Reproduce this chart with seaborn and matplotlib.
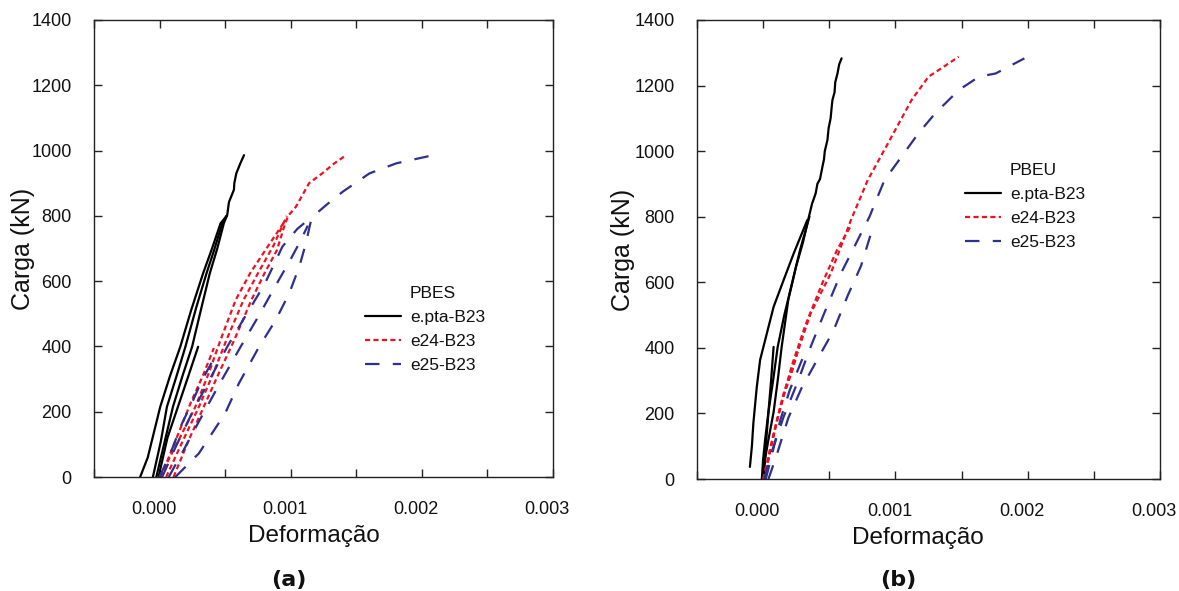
import numpy as np
import pandas as pd
import matplotlib
matplotlib.use("Agg")
import matplotlib.pyplot as plt
from matplotlib.lines import Line2D
from matplotlib.ticker import MultipleLocator, FuncFormatter
from matplotlib.transforms import ScaledTranslation
import seaborn as sns

# ---------------- data ----------------
series_names = ["e.pta-B23", "e24-B23", "e25-B23"]
x_label = "Deformação"
y_label = "Carga (kN)"
panel_titles = ["(a)", "(b)"]
legend_titles = ["PBES", "PBEU"]
y_ticks = [0, 200, 400, 600, 800, 1000, 1200, 1400]

# Panel (a) PBES
a_pta_1_x = [-0.000148, -0.00009, 0.000005, 0.00008, 0.000158, 0.00024, 0.000332, 0.0004, 0.000465, 0.000511]
a_pta_1_y = [0, 60, 215, 310, 399, 510, 624, 700, 777, 800]
a_pta_2_x = [-0.000051, 0.00001, 0.000056, 0.00013, 0.000197, 0.00028, 0.000358, 0.00042, 0.000478, 0.000511]
a_pta_2_y = [0, 110, 215, 310, 399, 520, 624, 700, 777, 800]
a_pta_3_x = [-0.000025, 0.00004, 0.000102, 0.000175, 0.000248, 0.00032, 0.000383, 0.00044, 0.00049, 0.000516,
             0.000529, 0.000567, 0.00057, 0.000585, 0.000615, 0.000644]
a_pta_3_y = [0, 110, 215, 310, 399, 520, 624, 700, 777, 803, 842, 880, 900, 930, 960, 986]
a_pta_4_x = [-0.000008, 0.00006, 0.00014, 0.00022, 0.000294]
a_pta_4_y = [0, 120, 215, 310, 399]

a_e24_1_x = [0.00001, 0.00008, 0.00016, 0.00024, 0.00033, 0.000414]
a_e24_1_y = [0, 70, 150, 230, 310, 395]
a_e24_2_x = [0.00000, 0.000146, 0.000273, 0.000375, 0.000465, 0.00058, 0.00069, 0.000815, 0.00096]
a_e24_2_y = [0, 113, 215, 318, 420, 542, 624, 700, 787]
a_e24_3_x = [0.00005, 0.00018, 0.0003, 0.00041, 0.00051, 0.00064, 0.00075, 0.00087, 0.00097]
a_e24_3_y = [0, 113, 215, 318, 420, 542, 624, 710, 800]
a_e24_4_x = [0.000107, 0.000222, 0.000337, 0.000452, 0.00057, 0.0007, 0.0008, 0.000895, 0.00095, 0.00098,
             0.00104, 0.00114, 0.00124, 0.00133, 0.001423]
a_e24_4_y = [0, 113, 215, 318, 420, 542, 624, 695, 767, 800, 828, 900, 930, 960, 986]

a_e25_1_x = [0.0, 0.00009, 0.000171, 0.00025, 0.000324, 0.00039, 0.000439]
a_e25_1_y = [0, 80, 164, 230, 297, 345, 379]
a_e25_2_x = [0.00002, 0.00012, 0.00024, 0.00037, 0.000516, 0.00065, 0.0008, 0.000937, 0.00105, 0.00114]
a_e25_2_y = [0, 90, 190, 290, 399, 490, 590, 706, 760, 790]
a_e25_3_x = [0.00007, 0.00018, 0.0003, 0.00045, 0.000618, 0.000765, 0.00089, 0.00099, 0.00107, 0.00113]
a_e25_3_y = [0, 80, 170, 280, 399, 500, 590, 660, 720, 770]
a_e25_4_x = [0.00012, 0.000299, 0.0005, 0.000605, 0.000759, 0.000886, 0.000989, 0.001065, 0.001116, 0.00114,
             0.00116, 0.00127, 0.001397, 0.0016, 0.001806, 0.002087]
a_e25_4_y = [0, 72, 195, 287, 399, 481, 563, 644, 716, 760, 795, 833, 874, 930, 961, 986]

# Panel (b) PBEU
b_pta_1_x = [-0.0001, -0.000085, -0.000074, -0.00006, -0.000048, -0.000023, 0.000028, 0.000079, 0.000155, 0.000231, 0.000334]
b_pta_1_y = [37, 100, 170, 230, 281, 363, 444, 525, 607, 688, 790]
b_pta_2_x = [-0.00001, 0.0, 0.000015, 0.00004, 0.000075, 0.00011, 0.00016, 0.00022, 0.00028, 0.00035]
b_pta_2_y = [0, 60, 120, 204, 300, 403, 500, 600, 700, 800]
b_pta_3_x = [0.0, 0.00001, 0.00004, 0.000079, 0.00011, 0.00014, 0.00019, 0.00025, 0.0003, 0.000346,
             0.00037, 0.000397, 0.00041, 0.00043, 0.000448, 0.00046, 0.000466, 0.000486, 0.000495, 0.00051,
             0.000517, 0.000524, 0.00054, 0.000545, 0.000562, 0.000575, 0.000593]
b_pta_3_y = [0, 50, 120, 204, 300, 403, 546, 650, 720, 800,
             840, 871, 900, 915, 952, 975, 1000, 1034, 1070, 1100,
             1130, 1156, 1180, 1210, 1237, 1265, 1283]
b_pta_4_x = [0.000005, 0.00002, 0.00004, 0.00006, 0.000079]
b_pta_4_y = [0, 100, 204, 300, 403]

b_e24_1_x = [0.00001, 0.00005, 0.0001, 0.00016, 0.00022, 0.00027]
b_e24_1_y = [0, 80, 170, 260, 330, 403]
b_e24_2_x = [0.00001, 0.00006, 0.00013, 0.00022, 0.00032, 0.00045, 0.00056, 0.00066]
b_e24_2_y = [0, 100, 220, 350, 470, 600, 700, 770]
b_e24_3_x = [0.0, 0.000079, 0.000155, 0.000257, 0.000359, 0.000511, 0.000664, 0.000791, 0.000944, 0.001122,
             0.00125, 0.001326, 0.001478]
b_e24_3_y = [0, 139, 261, 383, 505, 627, 790, 912, 1024, 1156, 1227, 1247, 1288]

b_e25_1_x = [0.00002, 0.00007, 0.00013, 0.0002, 0.00027, 0.00033]
b_e25_1_y = [0, 80, 180, 270, 340, 400]
b_e25_2_x = [0.00004, 0.0001, 0.00019, 0.00029, 0.00042, 0.00053, 0.00064, 0.00074, 0.00081]
b_e25_2_y = [0, 70, 186, 277, 372, 451, 560, 650, 742]
b_e25_3_x = [0.00001, 0.000053, 0.000155, 0.000257, 0.000359, 0.000461, 0.000588, 0.000715, 0.000804, 0.000855,
             0.000918, 0.001046, 0.001173, 0.0013, 0.001478, 0.001631, 0.001758, 0.001975]
b_e25_3_y = [0, 68, 190, 292, 403, 505, 627, 729, 800, 851,
             912, 983, 1054, 1115, 1186, 1227, 1237, 1283]

curves = {
    "a": [
        ("e.pta-B23", a_pta_1_x, a_pta_1_y), ("e.pta-B23", a_pta_2_x, a_pta_2_y),
        ("e.pta-B23", a_pta_3_x, a_pta_3_y), ("e.pta-B23", a_pta_4_x, a_pta_4_y),
        ("e24-B23", a_e24_1_x, a_e24_1_y), ("e24-B23", a_e24_2_x, a_e24_2_y),
        ("e24-B23", a_e24_3_x, a_e24_3_y), ("e24-B23", a_e24_4_x, a_e24_4_y),
        ("e25-B23", a_e25_1_x, a_e25_1_y), ("e25-B23", a_e25_2_x, a_e25_2_y),
        ("e25-B23", a_e25_3_x, a_e25_3_y), ("e25-B23", a_e25_4_x, a_e25_4_y),
    ],
    "b": [
        ("e.pta-B23", b_pta_1_x, b_pta_1_y), ("e.pta-B23", b_pta_2_x, b_pta_2_y),
        ("e.pta-B23", b_pta_3_x, b_pta_3_y), ("e.pta-B23", b_pta_4_x, b_pta_4_y),
        ("e24-B23", b_e24_1_x, b_e24_1_y), ("e24-B23", b_e24_2_x, b_e24_2_y),
        ("e24-B23", b_e24_3_x, b_e24_3_y),
        ("e25-B23", b_e25_1_x, b_e25_1_y), ("e25-B23", b_e25_2_x, b_e25_2_y),
        ("e25-B23", b_e25_3_x, b_e25_3_y),
    ],
}

# ---------------- styling ----------------
sns.set_style("ticks")
plt.rcParams["font.family"] = ["Liberation Sans", "DejaVu Sans"]

palette = {"e.pta-B23": "#000000", "e24-B23": "#EE1122", "e25-B23": "#2E2F8F"}
dashes = {"e.pta-B23": "", "e24-B23": (2.3, 1.5), "e25-B23": (6.5, 6.0)}
LW = 1.6

fig = plt.figure(figsize=(11.79, 5.91), dpi=100)
W, H = 1179, 591
ax_a = fig.add_axes([94 / W, 1 - 477 / H, (553 - 94) / W, (477 - 20) / H])
ax_b = fig.add_axes([697 / W, 1 - 479 / H, (1160 - 697) / W, (479 - 20) / H])


def build_df(key):
    rows = []
    for i, (s, xs, ys) in enumerate(curves[key]):
        for j, (x, y) in enumerate(zip(xs, ys)):
            rows.append({"strain": x, "load": y, "series": s, "curve": i, "order": j})
    return pd.DataFrame(rows)


def fmt(v, pos):
    k = round(v / 0.001)
    if abs(v - k * 0.001) < 1e-9 and k >= 0:
        return f"{v:.3f}"
    return ""


for ax, key, ltitle, leg_anchor, xl_x, yl_x in [
    (ax_a, "a", legend_titles[0], (0.59, 0.418), 0.479, -0.128),
    (ax_b, "b", legend_titles[1], (0.578, 0.688), 0.477, -0.133),
]:
    df = build_df(key)
    sns.lineplot(data=df, x="strain", y="load", hue="series", style="series",
                 units="curve", estimator=None, sort=False, palette=palette,
                 dashes=dashes, linewidth=LW, legend=False, ax=ax,
                 hue_order=series_names, style_order=series_names)
    ax.set_xlim(-0.0005, 0.003)
    ax.set_ylim(0, 1400)
    ax.xaxis.set_major_locator(MultipleLocator(0.0005))
    ax.xaxis.set_major_formatter(FuncFormatter(fmt))
    ax.set_yticks(y_ticks)
    ax.tick_params(axis="both", direction="in", top=True, right=True,
                   length=6, width=1, labelsize=13, color="#222222",
                   labelcolor="#111111")
    ax.tick_params(axis="x", pad=17)
    ax.tick_params(axis="y", pad=16)
    for sp in ax.spines.values():
        sp.set_linewidth(1.0)
        sp.set_color("#222222")
    ax.set_xlabel(x_label, fontsize=17.5, color="#111111")
    ax.set_ylabel(y_label, fontsize=18, color="#111111")
    ax.xaxis.set_label_coords(xl_x, -0.105)
    ax.yaxis.set_label_coords(yl_x, 0.5)

    handles = [Line2D([], [], linestyle="none")]
    for s in series_names:
        h = Line2D([], [], color=palette[s], linewidth=LW)
        if dashes[s]:
            h.set_dashes(dashes[s])
        handles.append(h)
    leg = ax.legend(handles, [ltitle] + series_names, loc="upper left",
                    bbox_to_anchor=leg_anchor, frameon=False, fontsize=12.5,
                    handlelength=2.1, handletextpad=0.5, labelspacing=0.5,
                    borderpad=0, borderaxespad=0)
    for t in leg.get_texts():
        t.set_color("#111111")

fig.text(289 / W, 1 - 580 / H, panel_titles[0], ha="center", va="center",
         fontsize=16, fontweight="bold", family="DejaVu Sans", color="#111111")
fig.text(898 / W, 1 - 580 / H, panel_titles[1], ha="center", va="center",
         fontsize=16, fontweight="bold", family="DejaVu Sans", color="#111111")

# reference places the x tick labels slightly left of their ticks
fig.canvas.draw()
shift = ScaledTranslation(-6 / 100, 0, fig.dpi_scale_trans)
for ax in (ax_a, ax_b):
    for tick in ax.xaxis.get_major_ticks():
        tick.label1.set_transform(tick.label1.get_transform() + shift)

fig.savefig("out.png", dpi=100)
